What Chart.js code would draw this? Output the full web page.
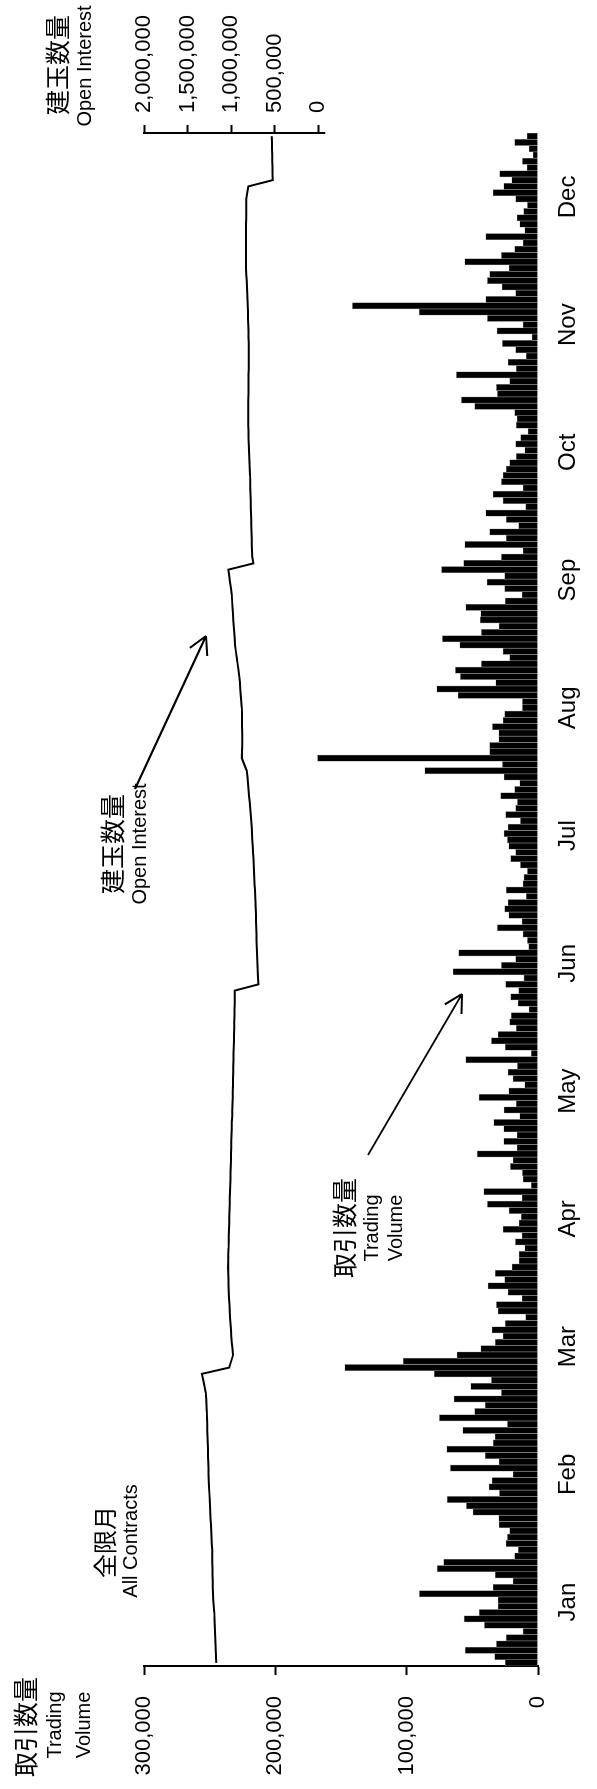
<!DOCTYPE html>
<html>
<head>
<meta charset="utf-8">
<script src="https://cdn.jsdelivr.net/npm/chart.js@4.4.1/dist/chart.umd.min.js"></script>
<style>
  html, body { margin: 0; padding: 0; background: #fff; overflow: hidden; width: 597px; height: 1789px; }
  /* chart is drawn landscape, then turned a quarter to the left */
  #wrap { position: absolute; left: 0; top: 0; width: 1789px; height: 597px;
          transform-origin: 0 0; transform: translate(0, 1789px) rotate(-90deg); }
</style>
</head>
<body>
<div id="wrap"><canvas id="chart" width="1789" height="597"></canvas></div>
<script>
const months = ["Jan", "Feb", "Mar", "Apr", "May", "Jun", "Jul", "Aug", "Sep", "Oct", "Nov", "Dec"];
const volumeTicks = [0, 100000, 200000, 300000];
const oiTicks = [0, 500000, 1000000, 1500000, 2000000];

// daily trading volume, thousand contracts
const volumeK = [
  24.9, 33.0, 55.5, 31.7, 24.1, 11.4, 40.8, 56.2, 44.8, 30.4,
  30.4, 90.3, 34.2, 19.0, 32.5, 76.8, 71.8, 17.8, 15.0, 24.3, 23.3, 21.6, 29.7, 29.9, 49.5, 54.5, 69.2,
  29.4, 37.3, 35.0, 19.0, 66.7, 29.7, 40.1, 69.5, 34.0, 32.7, 57.3, 23.3, 75.1, 48.2, 40.1, 63.9, 27.9,
  51.2, 35.5, 79.1, 147.1, 102.7, 61.6, 43.6, 32.5, 26.6, 35.0, 24.9, 9.4, 30.4, 31.7, 12.2, 22.8, 38.0,
  25.4, 32.5, 19.8, 14.5, 14.5, 10.1, 17.2, 12.2, 26.6, 14.5, 12.7, 22.1, 38.5, 12.2, 41.3, 5.1,
  11.4, 11.9, 21.0, 19.0, 46.2, 16.0, 26.1, 16.0, 26.1, 33.7, 13.9, 25.9, 16.5, 44.9, 22.3, 10.1, 19.0,
  22.8, 15.7, 55.0, 5.1, 24.9, 35.5, 30.4, 16.5, 21.6, 20.3, 6.8, 15.2, 20.8, 14.7, 24.6, 10.7, 64.7,
  27.9, 17.0, 60.4, 7.1, 8.1, 11.4, 30.9, 12.2, 22.3, 25.4, 22.8, 8.9, 24.1, 11.4, 10.7, 8.1, 13.4,
  20.8, 17.0, 22.3, 23.3, 25.9, 22.8, 13.4, 24.6, 17.0, 15.7, 28.4, 17.8, 13.9, 25.9, 86.2, 27.1, 167.9,
  36.8, 36.8, 29.9, 29.9, 34.7, 26.6, 25.4, 11.9, 11.9, 60.9, 77.1, 32.2, 59.1, 62.9, 43.1, 21.6,
  26.6, 59.6, 72.8, 43.1, 29.7, 43.9, 43.6, 55.0, 24.9, 12.2, 25.4, 38.8, 25.4, 73.5, 56.6, 27.9,
  11.4, 55.8, 24.1, 36.8, 14.7, 24.1, 39.8, 9.4, 26.6, 34.2, 11.4, 27.9, 26.6, 24.1, 21.6, 16.5, 10.1,
  17.0, 13.2, 7.6, 16.5, 16.0, 17.8, 48.2, 58.3, 30.9, 31.7, 21.6, 62.1, 16.5, 22.8, 8.9, 17.0, 27.1,
  4.6, 31.2, 11.4, 38.5, 90.5, 141.3, 39.8, 17.0, 27.4, 38.5, 36.8, 22.1, 55.8, 27.9, 17.8, 11.4, 39.8,
  10.1, 13.9, 16.0, 10.9, 8.1, 17.0, 34.2, 26.1, 20.0, 29.2, 8.4, 11.9, 3.8, 6.8, 17.8, 8.4
];

// open interest, thousand contracts
const openInterestK = [
  1170, 1174, 1178, 1181, 1184, 1186, 1189, 1192, 1194, 1200,
  1205, 1208, 1210, 1212, 1213, 1214, 1216, 1217, 1218,
  1222, 1225, 1229, 1232, 1236, 1240, 1243, 1246, 1250, 1253, 1257,
  1259, 1261, 1263, 1265, 1267, 1269, 1271, 1273, 1275, 1277, 1279,
  1283, 1287, 1292, 1305, 1320, 1336,
  1022, 1000, 978, 985, 992, 998, 1003, 1008, 1012, 1016, 1020, 1024, 1027, 1030,
  1032, 1033, 1035, 1034, 1033, 1030, 1029, 1027, 1026, 1023, 1021, 1020, 1017, 1015, 1014, 1011,
  1009, 1008, 1005, 1003, 1001, 999, 998, 995, 993, 992, 989, 987, 986, 983, 981, 979, 978, 976,
  975, 973, 972, 970, 968, 967, 965, 964, 963, 961, 960, 959, 958,
  687, 692, 695, 698, 701, 703, 706, 708, 710, 712, 714, 716, 718, 721, 724, 727, 731, 734,
  738, 741, 745, 749, 753, 757, 760, 764, 769, 775, 781, 788, 795, 801, 807, 814, 821, 850, 878,
  875, 872, 873, 874, 875, 876, 877, 878, 883, 889, 895, 900, 906, 916, 926, 936, 946, 955,
  960, 965, 970, 975, 980, 984, 989, 993, 1003, 1013, 1023, 1032,
  745, 758, 761, 763, 765, 767, 769, 770, 772, 774, 776, 778, 780, 782, 783, 786, 789, 792, 795,
  798, 800, 802, 804, 805, 805, 804, 803, 802, 801, 800, 800, 799, 799, 798, 798, 798,
  800, 802, 804, 806, 808, 810, 812, 815, 818, 822, 826, 829,
  829, 830, 830, 830, 829, 829, 829, 828, 828, 828, 827, 815, 803,
  523, 525, 527, 528, 530, 531, 533, 534
];

const days = volumeK.map((_, i) => i + 1);

const sans = '"Liberation Sans", Arial, sans-serif';
const cjk = '"Noto Sans CJK JP", sans-serif';

// free text on the landscape canvas
const notes = [
  { text: "建玉数量", x: 1724, y: 57, font: "25px " + cjk },
  { text: "Open Interest", x: 1723, y: 85, font: "20px " + sans },
  { text: "取引数量", x: 62, y: 25, font: "25px " + cjk },
  { text: "Trading", x: 64, y: 55, font: "20px " + sans },
  { text: "Volume", x: 64, y: 84, font: "20px " + sans },
  { text: "全限月", x: 247, y: 105, font: "24px " + cjk },
  { text: "All Contracts", x: 248, y: 131, font: "20px " + sans },
  { text: "取引数量", x: 561, y: 344, font: "25px " + cjk },
  { text: "Trading", x: 561, y: 372, font: "20px " + sans },
  { text: "Volume", x: 561, y: 396, font: "20px " + sans },
  { text: "建玉数量", x: 945, y: 112, font: "25px " + cjk },
  { text: "Open Interest", x: 945, y: 140, font: "20px " + sans }
];
const arrows = [
  { from: [634, 368], to: [795, 462] },
  { from: [1000, 135], to: [1153, 206] }
];

const notesPlugin = {
  id: "notes",
  afterDraw(chart) {
    const ctx = chart.ctx;
    ctx.save();
    ctx.fillStyle = "#000";
    ctx.strokeStyle = "#000";
    ctx.textAlign = "center";
    ctx.textBaseline = "middle";
    notes.forEach(n => { ctx.font = n.font; ctx.fillText(n.text, n.x, n.y); });

    ctx.lineWidth = 2;
    arrows.forEach(a => {
      const [x1, y1] = a.from, [x2, y2] = a.to;
      const ang = Math.atan2(y2 - y1, x2 - x1);
      ctx.beginPath();
      ctx.moveTo(x1, y1);
      ctx.lineTo(x2, y2);
      [-0.5, 0.5].forEach(d => {
        ctx.moveTo(x2, y2);
        ctx.lineTo(x2 - 20 * Math.cos(ang + d), y2 - 20 * Math.sin(ang + d));
      });
      ctx.stroke();
    });

    // open interest axis line only covers the labelled part
    const s = chart.scales.yOI;
    ctx.beginPath();
    ctx.moveTo(s.left, s.getPixelForValue(2000000) - 1);
    ctx.lineTo(s.left, s.getPixelForValue(0) + 7);
    ctx.stroke();
    ctx.restore();
  }
};

const fmt = v => Number(v).toLocaleString("en-US");

new Chart(document.getElementById("chart"), {
  data: {
    labels: days,
    datasets: [
      {
        type: "line",
        label: "建玉数量",
        data: openInterestK.map(v => v * 1000),
        yAxisID: "yOI",
        borderColor: "#000",
        borderWidth: 2,
        pointRadius: 0,
        tension: 0,
        order: 0
      },
      {
        type: "bar",
        label: "取引数量",
        data: volumeK.map(v => v * 1000),
        yAxisID: "yVol",
        backgroundColor: "#000",
        borderColor: "#9a9a9a",
        borderWidth: 0.6,
        barPercentage: 1,
        categoryPercentage: 1,
        order: 1
      }
    ]
  },
  options: {
    responsive: false,
    animation: false,
    devicePixelRatio: 1,
    layout: { padding: { top: 144, left: 0, right: 0, bottom: 0 } },
    plugins: { legend: { display: false }, tooltip: { enabled: false } },
    scales: {
      x: { type: "category", display: false, offset: true },
      months: {
        axis: "x",
        type: "category",
        labels: months,
        position: "bottom",
        offset: true,
        grid: { display: false, drawTicks: false },
        border: { display: false },
        ticks: { color: "#000", font: { family: sans, size: 24 }, padding: 16, maxRotation: 0, autoSkip: false },
        afterFit(s) { s.height = 59; }
      },
      yVol: {
        position: "left",
        min: 0,
        max: 300000,
        afterBuildTicks(s) { s.ticks = volumeTicks.map(v => ({ value: v })); },
        ticks: { callback: fmt, color: "#000", font: { family: sans, size: 22 }, padding: 21 },
        grid: { drawOnChartArea: false, drawTicks: true, tickLength: 9, tickWidth: 2, tickColor: "#000" },
        border: { display: true, color: "#000", width: 2 },
        afterFit(s) { s.width = 123; }
      },
      yOI: {
        position: "right",
        min: -2520000,
        max: 2000000,
        afterBuildTicks(s) { s.ticks = oiTicks.map(v => ({ value: v })); },
        ticks: { callback: fmt, color: "#000", font: { family: sans, size: 22 }, padding: 12 },
        grid: { drawOnChartArea: false, drawTicks: true, tickLength: 8, tickWidth: 2, tickColor: "#000" },
        border: { display: false },
        afterFit(s) { s.width = 133; }
      }
    }
  },
  plugins: [notesPlugin]
});
</script>
</body>
</html>
